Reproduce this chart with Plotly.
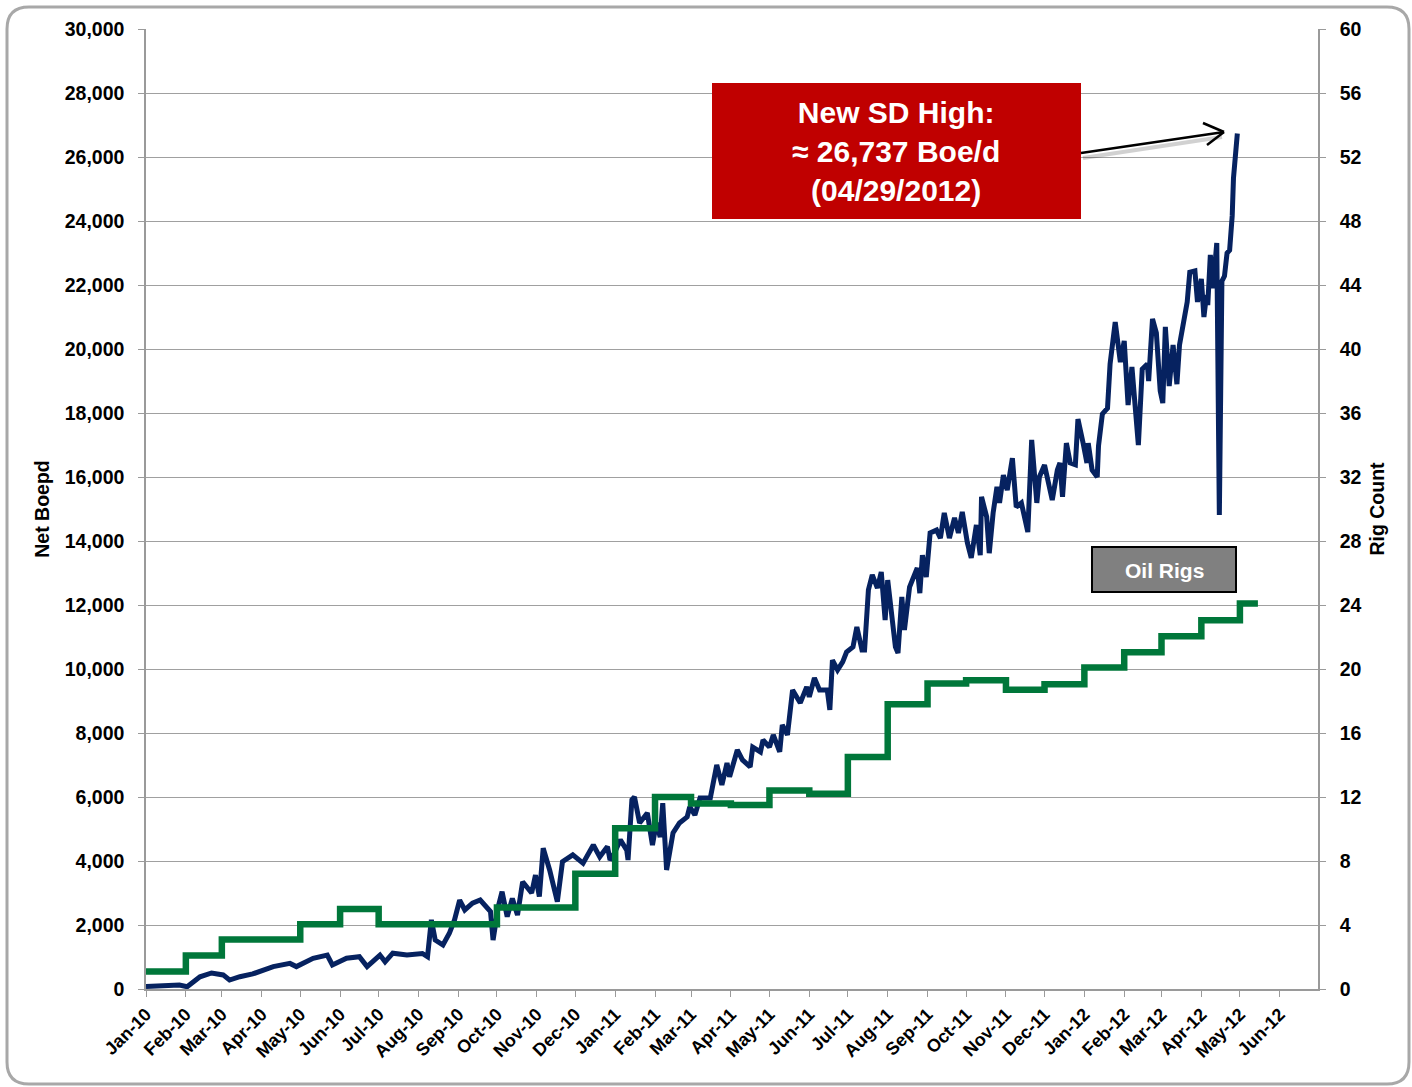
import pandas as pd
import plotly.graph_objects as go

# ---------------- data ----------------
START = "2010-01-01"
# days since 2010-01-01 and net production (Boe/d)
prod_day = [0, 26, 32, 42, 51, 60, 65, 73, 83, 94, 99, 112, 117, 130, 141, 145, 156, 166, 172, 182,
            186, 192, 203, 215, 219, 222, 225, 231, 236, 240, 244, 248, 254, 260, 268, 270, 274, 277,
            281, 285, 289, 293, 300, 303, 306, 309, 314, 320, 324, 332, 340, 348, 353, 359, 361,
            363, 369, 374, 375, 378, 380, 384, 390, 394, 397, 400, 402, 405, 410, 415, 421, 423, 427,
            431, 439, 444, 448, 452, 454, 460, 464, 470, 472, 478, 480, 485, 488, 493, 495, 499, 503,
            509, 514, 516, 520, 524, 530, 532, 534, 538, 542, 545, 550, 553, 557, 559, 562, 565, 569,
            572, 575, 577, 583, 585, 588, 590, 594, 600, 602, 604, 607, 610, 615, 618, 621, 625, 629,
            632, 635, 639, 642, 646, 649, 650, 654, 656, 659, 662, 664, 667, 670, 674, 677, 681, 686,
            689, 693, 695, 699, 705, 709, 711, 713, 716, 719, 723, 725, 729, 732, 733, 736, 740, 741,
            744, 748, 750, 754, 758, 761, 764, 767, 772, 775, 779, 780, 783, 786, 789, 791, 793, 796,
            799, 802, 804, 808, 810, 812, 816, 818, 821, 823, 825, 826, 828, 830, 833, 835, 837, 839,
            841, 843, 845, 846, 847, 849]
prod_boepd = [80, 125, 70, 380, 500, 440, 280, 385, 470, 645, 700, 800, 700, 960, 1060, 750, 960, 1010,
              700, 1060, 850, 1120, 1060, 1110, 1010, 2160, 1530, 1375, 1740, 2160, 2780, 2470, 2680,
              2780, 2420, 1530, 2570, 3040, 2260, 2830, 2310, 3350, 3000, 3560, 2890, 4400, 3720, 2730,
              3980, 4190, 3930, 4500, 4130, 4450, 4030,
              4130, 4660, 4340, 4030, 5910, 6000, 5190, 5500, 4500, 5190, 4750, 5810, 3720, 4880, 5190,
              5380, 5690, 5440, 5970, 5970, 7000, 6380, 7060, 6630, 7470, 7160, 6940, 7560, 7410, 7780,
              7560, 7940, 7410, 8250, 7940, 9340, 8940, 9440, 9130, 9720, 9340, 9340, 8720, 10280, 9970,
              10220, 10530, 10690, 11310, 10590, 10590, 12470, 12940, 12530, 13030, 11530, 12780, 10690,
              10500, 12250, 11220, 12560, 13160, 12370, 13560, 12875, 14250, 14340, 14090, 14875, 14090,
              14720, 14250, 14910, 13940, 13470, 14500, 13560, 15380, 14750, 13620, 14875, 15690, 15190,
              16060, 15590, 16590, 15060, 15190, 14280, 17160, 15190, 16000, 16375, 15280, 16220, 16440,
              15380, 17060, 16440, 16380, 17810, 17060, 16440, 17060, 16220, 16000, 16970, 17970, 18150,
              19530, 20840, 19590, 20250, 18250, 19440, 17000, 19375, 19530, 19000, 20940, 20500, 18690,
              18310, 20690, 18840, 20125, 18900, 20125, 20940, 21470, 22400, 22440, 21470, 22190, 21000,
              21690, 21375, 22940, 21900, 23310, 14810, 22125, 22280, 23000, 23090, 24160, 25340, 25900,
              26737]

rig_month = ["2010-01-01", "2010-02-01", "2010-03-01", "2010-04-01", "2010-05-01", "2010-06-01",
             "2010-07-01", "2010-08-01", "2010-09-01", "2010-10-01", "2010-11-01", "2010-12-01",
             "2011-01-01", "2011-02-01", "2011-03-01", "2011-04-01", "2011-05-01", "2011-06-01",
             "2011-07-01", "2011-08-01", "2011-09-01", "2011-10-01", "2011-11-01", "2011-12-01",
             "2012-01-01", "2012-02-01", "2012-03-01", "2012-04-01", "2012-05-01", "2012-05-15"]
rig_count = [1.1, 2.1, 3.1, 3.1, 4.05, 5.0, 4.05, 4.05, 4.05, 5.1, 5.1, 7.2,
             10.05, 12.0, 11.6, 11.5, 12.4, 12.2, 14.5, 17.8, 19.1, 19.3, 18.7, 19.05,
             20.1, 21.05, 22.05, 23.05, 24.1, 24.1]

callout_lines = ["New SD High:", "≈ 26,737 Boe/d", "(04/29/2012)"]
rig_label = "Oil Rigs"

# ---------------- figure ----------------
W, H = 1412, 1087
L, R, T, B = 146, 1318, 29, 989


def px(x):
    return (x - L) / (R - L)


def py(y):
    return (B - y) / (B - T)


prod_dates = pd.to_datetime(START) + pd.to_timedelta(prod_day, unit="D")

fig = go.Figure()
fig.add_trace(go.Scatter(x=rig_month, y=rig_count, yaxis="y2", mode="lines",
                         line=dict(color="#00773A", width=6.5, shape="hv"), name="Oil Rigs"))
fig.add_trace(go.Scatter(x=prod_dates, y=prod_boepd, mode="lines",
                         line=dict(color="#062260", width=5), name="Net Boepd"))

FONT = "Arial, Liberation Sans, sans-serif"
tickfont = dict(family=FONT, size=19.5, color="black", weight="bold")
titlefont = dict(family=FONT, size=19.5, color="black", weight="bold")

fig.update_layout(
    width=W, height=H,
    margin=dict(l=L, r=W - R, t=T, b=H - B, autoexpand=False),
    paper_bgcolor="white", plot_bgcolor="white",
    showlegend=False,
    xaxis=dict(type="date", range=["2010-01-01", "2012-06-30 18:00"], dtick="M1", tick0="2010-01-01",
               tickformat="%b-%y", tickangle=-45,
               tickfont=dict(family=FONT, size=18, color="black", weight="bold"),
               showgrid=False, showline=True, linecolor="#9A9A9A", linewidth=1.5,
               ticks="outside", ticklen=6, tickcolor="#9A9A9A", zeroline=False),
    yaxis=dict(range=[0, 30000], dtick=2000, tickformat=",", tickfont=tickfont,
               showgrid=True, gridcolor="#A0A0A0", gridwidth=1.2,
               showline=True, linecolor="#9A9A9A", linewidth=1.5, ticks="outside", ticklen=6,
               tickcolor="#9A9A9A", zeroline=False, ticklabelstandoff=10,
               title=dict(text="Net Boepd", font=titlefont, standoff=10)),
    yaxis2=dict(range=[0, 60], dtick=4, overlaying="y", side="right", tickfont=tickfont,
                showgrid=False, showline=True, linecolor="#9A9A9A", linewidth=1.5, ticks="outside",
                ticklen=6, tickcolor="#9A9A9A", zeroline=False, ticklabelstandoff=10,
                title=dict(text="Rig Count", font=titlefont, standoff=10)),
)

shapes = []
# outer rounded border
x0, y0, x1, y1, r = 7, 7, 1409, 1084, 22
path = (f"M {px(x0 + r)} {py(y0)} L {px(x1 - r)} {py(y0)} Q {px(x1)} {py(y0)} {px(x1)} {py(y0 + r)} "
        f"L {px(x1)} {py(y1 - r)} Q {px(x1)} {py(y1)} {px(x1 - r)} {py(y1)} "
        f"L {px(x0 + r)} {py(y1)} Q {px(x0)} {py(y1)} {px(x0)} {py(y1 - r)} "
        f"L {px(x0)} {py(y0 + r)} Q {px(x0)} {py(y0)} {px(x0 + r)} {py(y0)} Z")
shapes.append(dict(type="path", xref="paper", yref="paper", path=path,
                   line=dict(color="#A8A8A8", width=3), layer="below"))
# red callout box
shapes.append(dict(type="rect", xref="paper", yref="paper", x0=px(712), x1=px(1081), y0=py(219), y1=py(83),
                   fillcolor="#C00000", line=dict(width=0)))
# arrow shadow
shapes.append(dict(type="line", xref="paper", yref="paper", x0=px(1083), y0=py(158), x1=px(1222), y1=py(137),
                   line=dict(color="rgba(0,0,0,0.18)", width=4)))
# arrow line + open head
tip = (1224, 132)
shapes.append(dict(type="line", xref="paper", yref="paper", x0=px(1081), y0=py(153), x1=px(tip[0]), y1=py(tip[1]),
                   line=dict(color="black", width=2.5)))
shapes.append(dict(type="line", xref="paper", yref="paper", x0=px(1203), y0=py(123), x1=px(tip[0]), y1=py(tip[1]),
                   line=dict(color="black", width=2.5)))
shapes.append(dict(type="line", xref="paper", yref="paper", x0=px(1207), y0=py(145), x1=px(tip[0]), y1=py(tip[1]),
                   line=dict(color="black", width=2.5)))
# Oil Rigs box
shapes.append(dict(type="rect", xref="paper", yref="paper", x0=px(1092), x1=px(1236), y0=py(592), y1=py(547),
                   fillcolor="#808080", line=dict(color="black", width=2)))
fig.update_layout(shapes=shapes)

fig.add_annotation(xref="paper", yref="paper", x=px(896), y=py(151), xanchor="center", yanchor="middle",
                   showarrow=False, text="<br>".join(callout_lines), align="center",
                   font=dict(family=FONT, size=30, color="white", weight="bold"))
fig.add_annotation(xref="paper", yref="paper", x=px(1164), y=py(570), xanchor="center", yanchor="middle",
                   showarrow=False, text=rig_label,
                   font=dict(family=FONT, size=21, color="white", weight="bold"))

fig.write_html("out.html", config={"displayModeBar": False},
               post_script="document.body.style.margin='0px';document.body.style.overflow='hidden';")
